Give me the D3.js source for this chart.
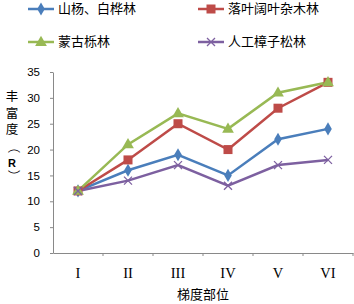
<!DOCTYPE html>
<html>
<head>
<meta charset="utf-8">
<script src="https://d3js.org/d3.v7.min.js"></script>
<style>
  body { margin: 0; background: #fff; }
  .axis path, .axis line { stroke: #898989; }
</style>
</head>
<body>
<svg id="chart" width="354" height="304"></svg>
<script>
// data
const categories = ["I", "II", "III", "IV", "V", "VI"];
const seriesNames = ["山杨、白桦林", "落叶阔叶杂木林", "蒙古栎林", "人工樟子松林"];
const shanyang = [12, 16, 19, 15, 22, 24];
const luoye = [12, 18, 25, 20, 28, 33];
const menggu = [12, 21, 27, 24, 31, 33];
const zhangzi = [12, 14, 17, 13, 17, 18];
const yTicks = [0, 5, 10, 15, 20, 25, 30, 35];

const series = [
  { name: seriesNames[0], values: shanyang, color: "#4A7EBB", marker: "diamond" },
  { name: seriesNames[1], values: luoye, color: "#BE4B48", marker: "square" },
  { name: seriesNames[2], values: menggu, color: "#98B954", marker: "triangle" },
  { name: seriesNames[3], values: zhangzi, color: "#7D60A0", marker: "cross" }
];

const svg = d3.select("#chart");
const margins = { top: 72, left: 53, right: 1, bottom: 51 };
const width = 354, height = 304;

const x = d3.scaleBand().domain(categories).range([margins.left, width - margins.right]);
const y = d3.scaleLinear().domain([0, 35]).range([height - margins.bottom, margins.top]);

// axes
svg.append("g")
   .attr("class", "axis")
   .attr("transform", `translate(${margins.left},0)`)
   .call(d3.axisLeft(y).tickValues(yTicks).tickSize(3).tickSizeOuter(0).tickPadding(10))
   .call(g => g.selectAll("text").attr("font-family", "Arial, 'Liberation Sans', sans-serif")
       .attr("font-size", 11.5).attr("fill", "#000"));

const xAxis = svg.append("g")
   .attr("class", "axis")
   .attr("transform", `translate(0,${height - margins.bottom})`)
   .call(d3.axisBottom(x).tickSize(0).tickSizeOuter(0).tickPadding(15));
xAxis.selectAll("text")
     .attr("font-family", "'Liberation Serif', 'DejaVu Serif', serif")
     .attr("font-size", 14.5).attr("fill", "#000");
// boundary tick marks
xAxis.selectAll("line.bound")
     .data(categories)
     .enter().append("line")
     .attr("class", "bound")
     .attr("x1", d => x(d) + x.bandwidth()).attr("x2", d => x(d) + x.bandwidth())
     .attr("y1", 0).attr("y2", 3)
     .attr("stroke", "#898989");

// axis titles
svg.append("text")
   .attr("x", x("III") + x.bandwidth())
   .attr("y", 299)
   .attr("text-anchor", "middle")
   .attr("font-family", "'Noto Sans CJK SC', sans-serif")
   .attr("font-size", 13)
   .text("梯度部位");

const yTitle = ["丰", "富", "度", "（", "R", "）"];
const yTitleY = [98, 115, 131, 147, 164, 176];
svg.selectAll("text.ytitle")
   .data(yTitle)
   .enter().append("text")
   .attr("class", "ytitle")
   .attr("x", 12)
   .attr("y", (d, i) => yTitleY[i])
   .attr("text-anchor", "middle")
   .attr("dominant-baseline", "middle")
   .attr("font-family", (d) => d === "R" ? "Arial, sans-serif" : "'Noto Sans CJK SC', sans-serif")
   .attr("font-weight", (d) => d === "R" ? "bold" : "normal")
   .attr("font-size", (d) => d === "R" ? 11 : 12.5)
   .attr("transform", (d, i) => (d === "（" || d === "）") ? `rotate(90,12,${yTitleY[i]})` : null)
   .text(d => d);

// marker drawing
function drawMarker(g, type, color, cx, cy) {
  if (type === "diamond") {
    g.append("path").attr("d", d3.symbol(d3.symbolDiamond, 50)())
     .attr("transform", `translate(${cx},${cy})`).attr("fill", color);
  } else if (type === "square") {
    g.append("rect").attr("x", cx - 4.5).attr("y", cy - 4.5).attr("width", 9).attr("height", 9)
     .attr("fill", color);
  } else if (type === "triangle") {
    g.append("path").attr("d", d3.symbol(d3.symbolTriangle, 60)())
     .attr("transform", `translate(${cx},${cy + 0.5})`).attr("fill", color);
  } else {
    g.append("path").attr("d", `M${cx - 4},${cy - 4}L${cx + 4},${cy + 4}M${cx - 4},${cy + 4}L${cx + 4},${cy - 4}`)
     .attr("stroke", color).attr("stroke-width", 1.3);
  }
}

const line = d3.line()
  .x((d, i) => x(categories[i]) + x.bandwidth() / 2)
  .y(d => y(d));

const plot = svg.append("g");
series.forEach(s => {
  plot.append("path")
      .attr("d", line(s.values))
      .attr("fill", "none")
      .attr("stroke", s.color)
      .attr("stroke-width", 2.5);
});
series.forEach(s => {
  s.values.forEach((v, i) => {
    drawMarker(plot, s.marker, s.color, x(categories[i]) + x.bandwidth() / 2, y(v));
  });
});

// legend
const legendPos = [[28, 9], [198, 9], [28, 42], [198, 42]];
series.forEach((s, i) => {
  const [lx, ly] = legendPos[i];
  const g = svg.append("g");
  g.append("line").attr("x1", lx).attr("x2", lx + 26).attr("y1", ly).attr("y2", ly)
   .attr("stroke", s.color).attr("stroke-width", 2.5);
  drawMarker(g, s.marker, s.color, lx + 13, ly);
  g.append("text")
   .attr("x", lx + 30).attr("y", ly)
   .attr("dominant-baseline", "middle")
   .attr("font-family", "'Noto Sans CJK SC', sans-serif")
   .attr("font-size", 13)
   .text(s.name);
});
</script>
</body>
</html>
